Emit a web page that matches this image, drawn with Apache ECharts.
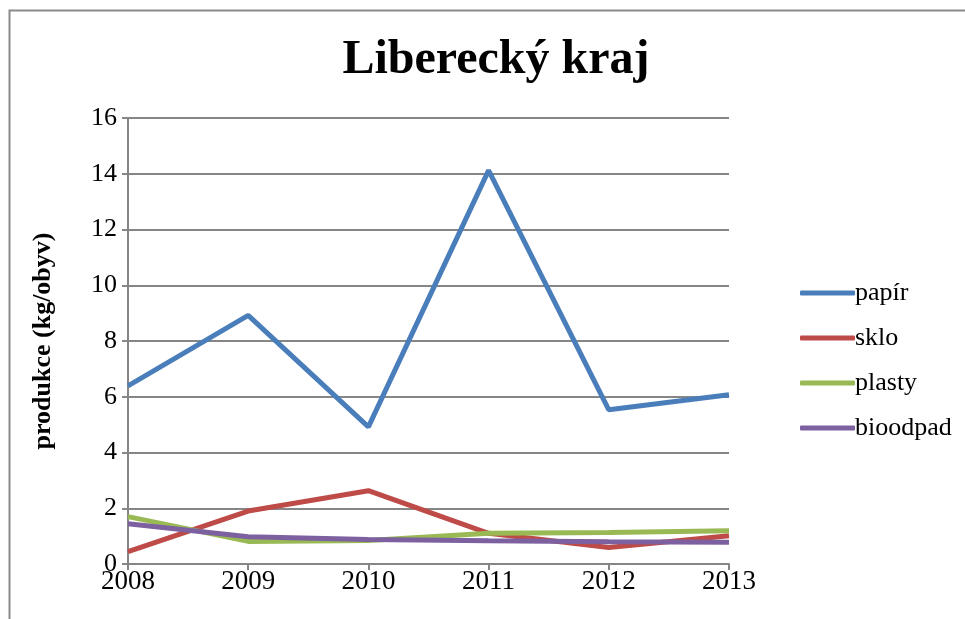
<!DOCTYPE html>
<html>
<head>
<meta charset="utf-8">
<script src="https://cdn.jsdelivr.net/npm/echarts@6/dist/echarts.min.js"></script>
<style>
  html, body { margin: 0; padding: 0; background: #fff; }
  #chart { width: 965px; height: 619px; }
</style>
</head>
<body>
<div id="chart"></div>
<script>
// data
var years    = ['2008', '2009', '2010', '2011', '2012', '2013'];
var papir    = [6.39, 8.92, 4.92, 14.12, 5.53, 6.07];
var sklo     = [0.44, 1.90, 2.63, 1.10, 0.59, 1.01];
var plasty   = [1.70, 0.81, 0.84, 1.10, 1.13, 1.19];
var bioodpad = [1.44, 0.98, 0.88, 0.83, 0.80, 0.78];

var serif = '"Liberation Serif", "Times New Roman", serif';

function line(name, data, color) {
    return {
        name: name,
        type: 'line',
        data: data,
        symbol: 'none',
        lineStyle: { width: 5, color: color },
        itemStyle: { color: color }
    };
}

var chart = echarts.init(document.getElementById('chart'));
chart.setOption({
    animation: false,
    title: {
        text: 'Liberecký kraj',
        left: 491,
        textAlign: 'center',
        top: 32,
        textStyle: { fontFamily: serif, fontSize: 48, fontWeight: 'bold', color: '#000' }
    },
    graphic: [{
        type: 'rect',
        shape: { x: 9.5, y: 10.5, width: 1000, height: 700 },
        style: { fill: 'none', stroke: '#8a8a8a', lineWidth: 2 }
    }],
    legend: {
        orient: 'vertical',
        left: 795,
        top: 275,
        itemWidth: 55,
        itemHeight: 5,
        itemGap: 19,
        icon: 'roundRect',
        textStyle: { fontFamily: serif, fontSize: 26, color: '#000', padding: [0, 0, 0, -5] },
        data: ['papír', 'sklo', 'plasty', 'bioodpad']
    },
    grid: { left: 128, right: 236, top: 118, bottom: 55 },
    xAxis: {
        type: 'category',
        data: years,
        boundaryGap: false,
        axisLine: { lineStyle: { color: '#868686', width: 2 } },
        axisTick: { show: true, length: 6, lineStyle: { color: '#868686', width: 2 } },
        axisLabel: { fontFamily: serif, fontSize: 27, color: '#000', margin: 4 },
        splitLine: { show: false }
    },
    yAxis: {
        type: 'value',
        min: 0,
        max: 16,
        interval: 2,
        name: 'produkce (kg/obyv)',
        nameLocation: 'middle',
        nameGap: 72,
        nameTextStyle: { fontFamily: serif, fontSize: 26, fontWeight: 'bold', color: '#000' },
        axisLine: { show: true, lineStyle: { color: '#868686', width: 2 } },
        axisTick: { show: true, length: 6, lineStyle: { color: '#868686', width: 2 } },
        axisLabel: { fontFamily: serif, fontSize: 26, color: '#000', margin: 11 },
        splitLine: { lineStyle: { color: '#868686', width: 2 } }
    },
    series: [
        line('papír', papir, '#4a7ebb'),
        line('sklo', sklo, '#be4b48'),
        line('plasty', plasty, '#98b954'),
        line('bioodpad', bioodpad, '#7d60a0')
    ]
});
</script>
</body>
</html>
